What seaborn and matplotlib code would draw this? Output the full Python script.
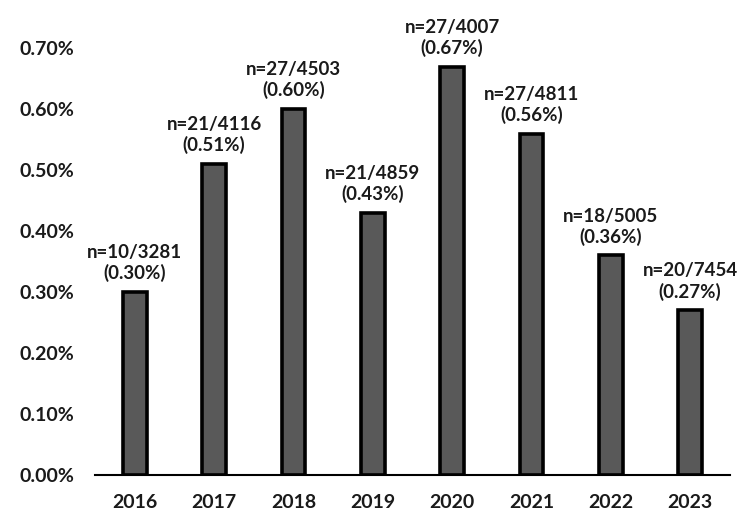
import matplotlib
matplotlib.use("Agg")
import matplotlib.pyplot as plt
import seaborn as sns
import pandas as pd
from matplotlib.ticker import FuncFormatter

years = ["2016", "2017", "2018", "2019", "2020", "2021", "2022", "2023"]
rates = [0.30, 0.51, 0.60, 0.43, 0.67, 0.56, 0.36, 0.27]
cases = [10, 21, 27, 21, 27, 27, 18, 20]
totals = [3281, 4116, 4503, 4859, 4007, 4811, 5005, 7454]

df = pd.DataFrame({"year": years, "rate": rates})

sns.set_theme(style="white")
plt.rcParams["font.family"] = ["Lato", "DejaVu Sans"]

fig = plt.figure(figsize=(7.5, 5.3), dpi=100)
ax = fig.add_axes([0.127, 0.104, 0.846, 0.805])
sns.barplot(data=df, x="year", y="rate", color="#595959", saturation=1,
            edgecolor="black", linewidth=2.6, width=0.30, ax=ax)

for i, (r, c, t) in enumerate(zip(rates, cases, totals)):
    ax.annotate(f"n={c}/{t}\n({r:.2f}%)", xy=(i, r), xytext=(0, 7),
                textcoords="offset points", ha="center", va="bottom",
                fontsize=13.5, fontweight="bold", color="#1a1a1a",
                annotation_clip=False, linespacing=1.2)

ax.set_ylim(0, 0.70)
ax.set_xlim(-0.5, 7.5)
ax.set_yticks([0, 0.1, 0.2, 0.3, 0.4, 0.5, 0.6, 0.7])
ax.yaxis.set_major_formatter(FuncFormatter(lambda v, p: f"{v:.2f}%"))
ax.set_xlabel("")
ax.set_ylabel("")
for s in ["top", "right", "left"]:
    ax.spines[s].set_visible(False)
ax.spines["bottom"].set_color("black")
ax.spines["bottom"].set_linewidth(1.5)
ax.tick_params(axis="y", length=0, labelsize=14, pad=15)
ax.tick_params(axis="x", length=0, labelsize=14, pad=14)
for lab in ax.get_xticklabels() + ax.get_yticklabels():
    lab.set_fontweight("bold")
    lab.set_color("#1a1a1a")

fig.savefig("out.png", dpi=100)
